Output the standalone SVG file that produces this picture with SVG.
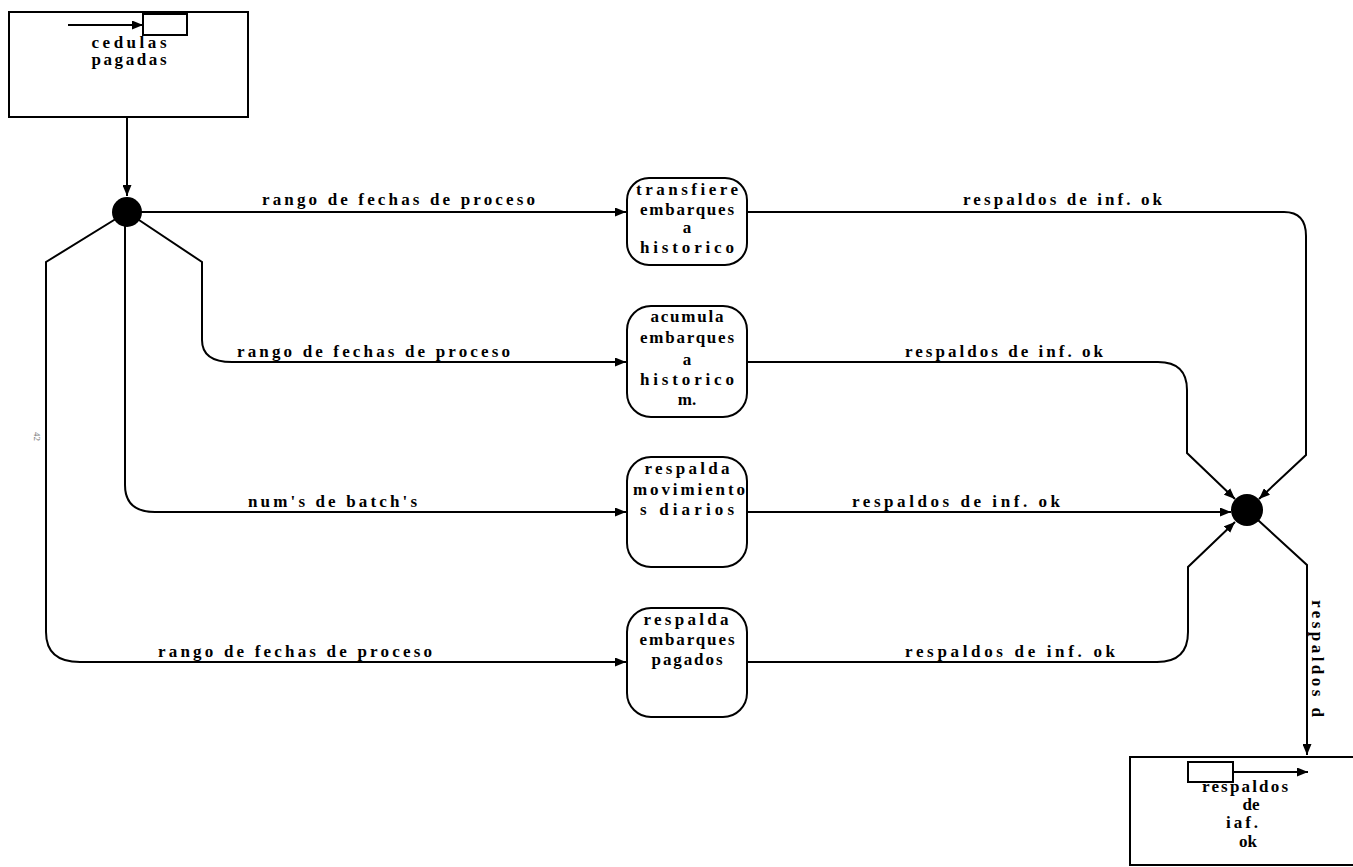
<svg xmlns="http://www.w3.org/2000/svg" width="1353" height="867" viewBox="0 0 1353 867">
<style>
.ln{fill:none;stroke:#000;stroke-width:2}
.bx{fill:#fff;stroke:#000;stroke-width:2}
.t{font-family:"Liberation Serif","Times New Roman",serif;font-weight:bold;font-size:17px;fill:#000}
.c{text-anchor:middle}
.dot{fill:#000}
</style>
<defs>
<marker id="ah" markerUnits="userSpaceOnUse" markerWidth="12" markerHeight="9" refX="11" refY="4.5" orient="auto">
<path d="M0,0 L11,4.5 L0,9 z" fill="#000"/>
</marker>
</defs>

<g id="connectors">
<path class="ln" d="M127,117 V196" marker-end="url(#ah)"/>
<path class="ln" d="M127,212 H626" marker-end="url(#ah)"/>
<path class="ln" d="M127,212 L202,262 V340 Q202,362 232,362 H626" marker-end="url(#ah)"/>
<path class="ln" d="M125,212 V485 Q125,512 155,512 H626" marker-end="url(#ah)"/>
<path class="ln" d="M127,212 L46,262 V632 Q46,662 80,662 H626" marker-end="url(#ah)"/>
<path class="ln" d="M747,212 H1284 Q1306,212 1306,236 V455 L1259,499" marker-end="url(#ah)"/>
<path class="ln" d="M747,362 H1158 Q1187,362 1187,390 V453 L1235,499" marker-end="url(#ah)"/>
<path class="ln" d="M747,512 H1231" marker-end="url(#ah)"/>
<path class="ln" d="M747,662 H1157 Q1188,662 1188,632 V567 L1235,522" marker-end="url(#ah)"/>
<path class="ln" d="M1247,510 L1307,565 V755" marker-end="url(#ah)"/>
<text class="t" x="262" y="205" textLength="273" lengthAdjust="spacing">rango de fechas de proceso</text>
<text class="t" x="963" y="205" textLength="199" lengthAdjust="spacing">respaldos de inf. ok</text>
<text class="t" x="237" y="357" textLength="273" lengthAdjust="spacing">rango de fechas de proceso</text>
<text class="t" x="905" y="357" textLength="198" lengthAdjust="spacing">respaldos de inf. ok</text>
<text class="t" x="248" y="507" textLength="169" lengthAdjust="spacing">num's de batch's</text>
<text class="t" x="852" y="507" textLength="208" lengthAdjust="spacing">respaldos de inf. ok</text>
<text class="t" x="158" y="657" textLength="274" lengthAdjust="spacing">rango de fechas de proceso</text>
<text class="t" x="905" y="657" textLength="210" lengthAdjust="spacing">respaldos de inf. ok</text>
<text class="t" transform="translate(1312,600) rotate(90)" textLength="117" lengthAdjust="spacing">respaldos d</text>
<text class="t" style="font-size:9px;fill:#777;font-weight:normal" transform="translate(34,432) rotate(90)">42</text>
</g>

<g id="cedulas-pagadas">
<rect class="bx" x="9" y="12" width="239" height="105"/>
<rect class="bx" x="143" y="13" width="44" height="22"/>
<path d="M143,13 H187" stroke="#000" stroke-width="4"/>
<path class="ln" d="M68,25 H143" marker-end="url(#ah)"/>
<text class="t c" x="129" y="48" textLength="75" lengthAdjust="spacing">cedulas</text>
<text class="t c" x="129" y="65" textLength="75" lengthAdjust="spacing">pagadas</text>
</g>

<g id="junction-in"><circle class="dot" cx="127" cy="212" r="15"/></g>
<g id="junction-out"><circle class="dot" cx="1247" cy="510" r="16"/></g>

<g id="transfiere">
<rect class="bx" x="627" y="178" width="120" height="87" rx="22"/>
<text class="t c" x="687" y="195" textLength="102" lengthAdjust="spacing">transfiere</text>
<text class="t c" x="687" y="215" textLength="94" lengthAdjust="spacing">embarques</text>
<text class="t c" x="687" y="233">a</text>
<text class="t c" x="687" y="253" textLength="94" lengthAdjust="spacing">historico</text>
</g>

<g id="acumula">
<rect class="bx" x="627" y="306" width="120" height="111" rx="24"/>
<text class="t c" x="687" y="322" textLength="73" lengthAdjust="spacing">acumula</text>
<text class="t c" x="687" y="343" textLength="94" lengthAdjust="spacing">embarques</text>
<text class="t c" x="687" y="365">a</text>
<text class="t c" x="687" y="385" textLength="94" lengthAdjust="spacing">historico</text>
<text class="t c" x="687" y="405">m.</text>
</g>

<g id="respalda-movimientos">
<rect class="bx" x="627" y="457" width="120" height="110" rx="24"/>
<text class="t c" x="687" y="474" textLength="85" lengthAdjust="spacing">respalda</text>
<text class="t c" x="689" y="495" textLength="112" lengthAdjust="spacing">movimiento</text>
<text class="t c" x="687" y="515" textLength="94" lengthAdjust="spacing">s diarios</text>
</g>

<g id="respalda-embarques">
<rect class="bx" x="627" y="608" width="120" height="109" rx="24"/>
<text class="t c" x="686" y="625" textLength="85" lengthAdjust="spacing">respalda</text>
<text class="t c" x="687" y="645" textLength="95" lengthAdjust="spacing">embarques</text>
<text class="t c" x="687" y="665" textLength="71" lengthAdjust="spacing">pagados</text>
</g>

<g id="respaldos-inf-ok">
<rect class="bx" x="1130" y="757" width="240" height="108"/>
<rect class="bx" x="1188" y="762" width="45" height="20"/>
<path class="ln" d="M1233,772 H1308" marker-end="url(#ah)"/>
<text class="t c" x="1245" y="792" textLength="86" lengthAdjust="spacing">respaldos</text>
<text class="t c" x="1251" y="810">de</text>
<text class="t c" x="1242" y="828" textLength="32" lengthAdjust="spacing">iaf.</text>
<text class="t c" x="1248" y="847">ok</text>
</g>
</svg>
